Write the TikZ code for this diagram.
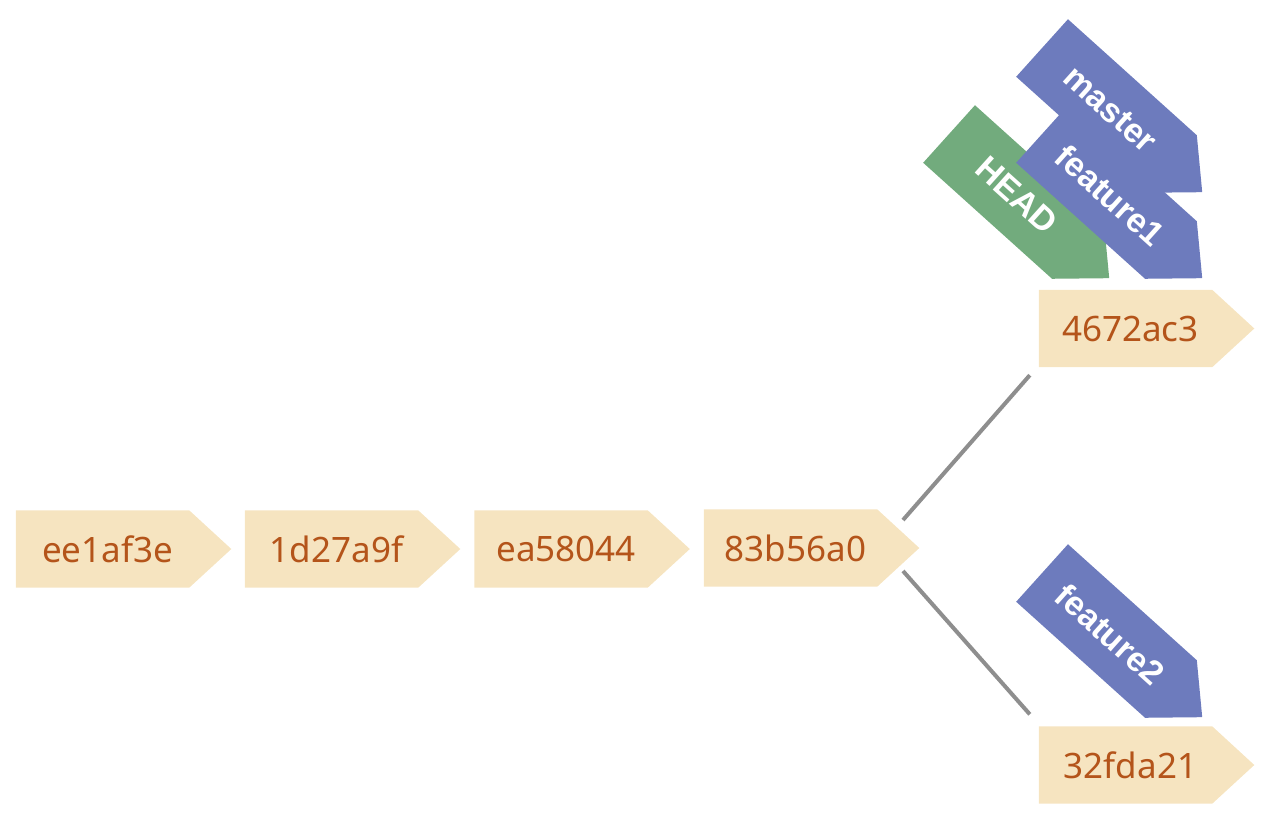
\documentclass[tikz,border=0pt]{standalone}
\usepackage{fontspec}
\setmainfont{Noto Sans}
\newfontfamily\tagfont{Liberation Sans}[BoldFont={Liberation Sans Bold}]
\usetikzlibrary{calc}
\pgfdeclarelayer{bg}
\pgfsetlayers{bg,main}
\definecolor{commitfill}{HTML}{F6E4C0}
\definecolor{committext}{HTML}{B4541A}
\definecolor{branchblue}{HTML}{6D7BBD}
\definecolor{headgreen}{HTML}{72AB7D}
\definecolor{linkgray}{HTML}{8E8E8E}
\begin{document}
\begin{tikzpicture}[x=1pt,y=-1pt,
  commit/.style={rectangle, minimum width=173pt, minimum height=77pt, inner sep=0pt,
    text=committext, font=\fontsize{35}{42}\selectfont},
  tagbox/.style={rectangle, minimum width=173pt, minimum height=77pt, inner sep=0pt,
    rotate=-42, text=white, font=\tagfont\bfseries\fontsize{34}{40}\selectfont},
  link/.style={draw=linkgray, line width=4pt}]
\useasboundingbox (0,0) rectangle (1264,820);
% commits
\node[commit] (c1) at (102.5,549) {\kern10pt ee1af3e};
\node[commit] (c2) at (331.5,549) {\kern10pt 1d27a9f};
\node[commit] (c3) at (561,549) {\kern10pt ea58044};
\node[commit] (c4) at (790.5,548) {\kern10pt 83b56a0};
\node[commit] (c5) at (1125.5,328.5) {\kern10pt 4672ac3};
\node[commit] (c6) at (1125.5,765) {\kern10pt 32fda21};
% refs
\node[tagbox] (head) at (1013.5,192) {\kern10pt HEAD};
\node[tagbox] (master) at (1106.5,106) {\kern10pt master};
\node[tagbox] (f1) at (1106.5,192) {\kern10pt feature1};
\node[tagbox] (f2) at (1106.5,631) {\kern10pt feature2};
% shapes
\begin{pgfonlayer}{bg}
\foreach \n/\c in {c1/commitfill,c2/commitfill,c3/commitfill,c4/commitfill,c5/commitfill,c6/commitfill,head/headgreen,master/branchblue,f1/branchblue,f2/branchblue}
  \fill[\c] (\n.north west) -- (\n.north east) -- ($(\n.west)!1.24277!(\n.east)$) -- (\n.south east) -- (\n.south west) -- cycle;
\end{pgfonlayer}
% connectors
\draw[link] ($(c4.center)+(112.5,-28)$) -- ($(c5.south west)+(-9,8)$);
\draw[link] ($(c4.center)+(112.5,23)$) -- ($(c6.north west)+(-9,-12)$);
\end{tikzpicture}
\end{document}
